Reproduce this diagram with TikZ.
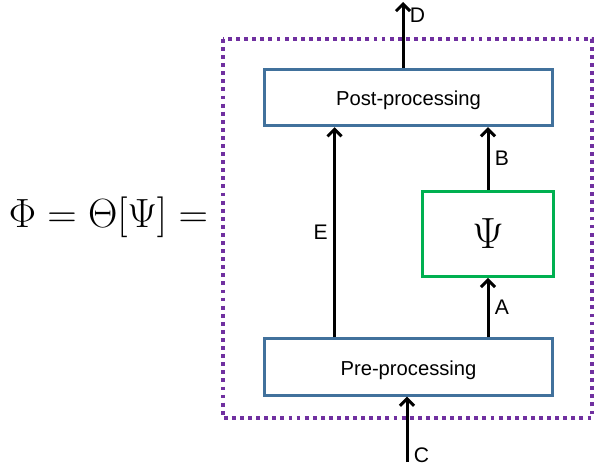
\documentclass[tikz,border=0pt]{standalone}
\usepackage{fontspec}
\setmainfont{Liberation Sans}
\usepackage{amsmath,graphicx}
\definecolor{boxblue}{RGB}{65,113,156}
\definecolor{boxgreen}{RGB}{0,176,80}
\definecolor{framepurple}{RGB}{112,48,160}
\usetikzlibrary{arrows.meta,positioning}
\newcommand{\boxtext}[1]{\raisebox{-4.6pt}[0pt][0pt]{#1}}

\begin{document}
\begin{tikzpicture}[x=0.02cm,y=-0.02cm,
  procbox/.style={draw=boxblue,line width=1.7pt,minimum width=5.78cm,minimum height=1.13cm,
    align=center,font=\fontsize{11.5}{13}\selectfont,inner sep=2pt},
  psibox/.style={draw=boxgreen,line width=1.7pt,minimum width=2.62cm,minimum height=1.7cm},
  flowarrow/.style={line width=1.7pt,-{Straight Barb[length=4pt,width=8pt]}},
  flowlabel/.style={font=\fontsize{12}{14}\selectfont,inner sep=3pt},
  framedots/.style={draw=framepurple,line width=2.2pt,dash pattern=on 2.2pt off 2.4pt}
]
  \useasboundingbox (0,0) rectangle (594,472);
  % dotted frame round the operator
  \draw[framedots] (223,39) rectangle (592,418);

  \node (eqn) at (108.5,217) {\fontsize{20.74}{25}\selectfont\scalebox{1.12}{$\Phi=\Theta[\Psi]=$}};

  \node[procbox] (post) at (408.5,97.5) {\boxtext{Post-processing}};
  \node[procbox] (pre) at (408.5,367) {\boxtext{Pre-processing}};
  \node[psibox] (psi) at (488,234) {\fontsize{23}{26}\selectfont$\Psi$};

  \coordinate (dtop) at (403,2);
  \coordinate (cbot) at (407,462);

  \draw[flowarrow] (cbot) -- (cbot |- pre.south) node[flowlabel,pos=0.1,right] {C};
  \draw[flowarrow] ([xshift=1.44cm]pre.north west) -- ([xshift=1.44cm]post.south west)
    node[flowlabel,midway,left] {E};
  \draw[flowarrow] (pre.north -| psi.south) -- (psi.south) node[flowlabel,midway,right] {A};
  \draw[flowarrow] (psi.north) -- (post.south -| psi.north) node[flowlabel,midway,right] {B};
  \draw[flowarrow] (post.north -| dtop) -- (dtop) node[flowlabel,pos=0.8,right] {D};
\end{tikzpicture}
\end{document}
